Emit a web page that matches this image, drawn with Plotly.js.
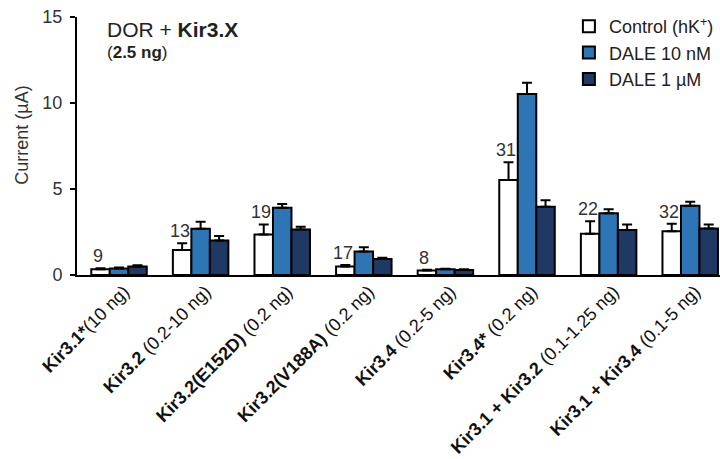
<!DOCTYPE html>
<html><head><meta charset="utf-8">
<script src="https://cdn.plot.ly/plotly-3.0.1.min.js"></script>
<style>html,body{margin:0;padding:0;background:#fff}#chart{width:720px;height:459px}</style>
</head><body><div id="chart"></div>
<script>
const categories = ['<b>Kir3.1*</b>(10 ng)', '<b>Kir3.2</b> (0.2-10 ng)', '<b>Kir3.2(E152D)</b> (0.2 ng)', '<b>Kir3.2(V188A)</b> (0.2 ng)', '<b>Kir3.4</b> (0.2-5 ng)', '<b>Kir3.4*</b> (0.2 ng)', '<b>Kir3.1 + Kir3.2</b> (0.1-1.25 ng)', '<b>Kir3.1 + Kir3.4</b> (0.1-5 ng)'];
const seriesNames = ['Control (hK<sup>+</sup>)', 'DALE 10 nM', 'DALE 1 µM'];
const control = [0.33, 1.45, 2.36, 0.49, 0.26, 5.52, 2.40, 2.54];
const controlErr = [0.06, 0.39, 0.58, 0.09, 0.04, 1.03, 0.72, 0.44];
const dale10 = [0.38, 2.69, 3.91, 1.36, 0.33, 10.52, 3.59, 4.03];
const dale10Err = [0.05, 0.40, 0.22, 0.25, 0.04, 0.66, 0.23, 0.23];
const dale1 = [0.50, 2.00, 2.65, 0.93, 0.29, 3.97, 2.62, 2.71];
const dale1Err = [0.07, 0.27, 0.16, 0.07, 0.04, 0.37, 0.31, 0.22];
const nLabels = ['9', '13', '19', '17', '8', '31', '22', '32'];
const yTicks = [0, 5, 10, 15];

const FONT = 'Liberation Sans, Arial, sans-serif';
const xIdx = categories.map((c, i) => i);
const colors = ['#ffffff', '#2e75b6', '#203864'];
const vals = [control, dale10, dale1];
const errs = [controlErr, dale10Err, dale1Err];

const traces = vals.map((v, k) => ({
  type: 'bar', x: xIdx, y: v, name: seriesNames[k],
  marker: {color: colors[k], line: {color: '#000', width: 2}},
  error_y: {type: 'data', array: errs[k], arrayminus: v.map(() => 0), symmetric: false,
            color: '#000', thickness: 2, width: 5},
  hoverinfo: 'skip'
}));

const annotations = nLabels.map((t, i) => ({
  x: i, y: control[i] + controlErr[i], xref: 'x', yref: 'y', text: t, showarrow: false,
  xanchor: 'center', yanchor: 'bottom', xshift: -21, yshift: 0,
  font: {family: FONT, size: 18, color: '#333'}
}));
annotations.push({
  xref: 'paper', yref: 'paper', x: 0.044, y: 0.95, xanchor: 'left', yanchor: 'middle',
  text: 'DOR + <b>Kir3.X</b>', showarrow: false,
  font: {family: FONT, size: 21, color: '#222'}
});
annotations.push({
  xref: 'paper', yref: 'paper', x: 0.044, y: 0.862, xanchor: 'left', yanchor: 'middle',
  text: '(<b>2.5 ng</b>)', showarrow: false,
  font: {family: FONT, size: 17, color: '#222'}
});
annotations.push({
  xref: 'paper', yref: 'paper', x: -0.0855, y: 0.54, xanchor: 'center', yanchor: 'middle',
  text: 'Current (µA)', showarrow: false, textangle: -90,
  font: {family: FONT, size: 18, color: '#333'}
});

const layout = {
  width: 720, height: 459,
  margin: {l: 77, r: 0, t: 17, b: 184},
  paper_bgcolor: '#fff', plot_bgcolor: '#fff',
  font: {family: FONT, size: 17, color: '#333'},
  barmode: 'group', bargap: 0.32, bargroupgap: 0,
  showlegend: true,
  legend: {x: 0.765, y: 1.035, xanchor: 'left', yanchor: 'top', bgcolor: 'rgba(0,0,0,0)',
           font: {size: 18, color: '#222'}, tracegroupgap: 0},
  xaxis: {
    range: [-0.515, 7.365], tickvals: xIdx, ticktext: categories, tickangle: -45,
    showline: true, linecolor: '#000', linewidth: 2, ticks: '', showgrid: false, zeroline: false,
    tickfont: {size: 18, color: '#111'}, ticklabelshift: 5, ticklabelstandoff: -3, fixedrange: true
  },
  yaxis: {
    range: [0, 15], tickvals: yTicks, ticktext: yTicks.map(String),
    showline: true, linecolor: '#000', linewidth: 2, ticks: 'outside', ticklen: 5, tickwidth: 2, tickcolor: '#000',
    showgrid: false, zeroline: false, tickfont: {size: 18, color: '#333'}, ticklabelstandoff: 4
  },
  annotations: annotations
};

Plotly.newPlot('chart', traces, layout, {displayModeBar: false, staticPlot: true});
</script>
</body></html>
